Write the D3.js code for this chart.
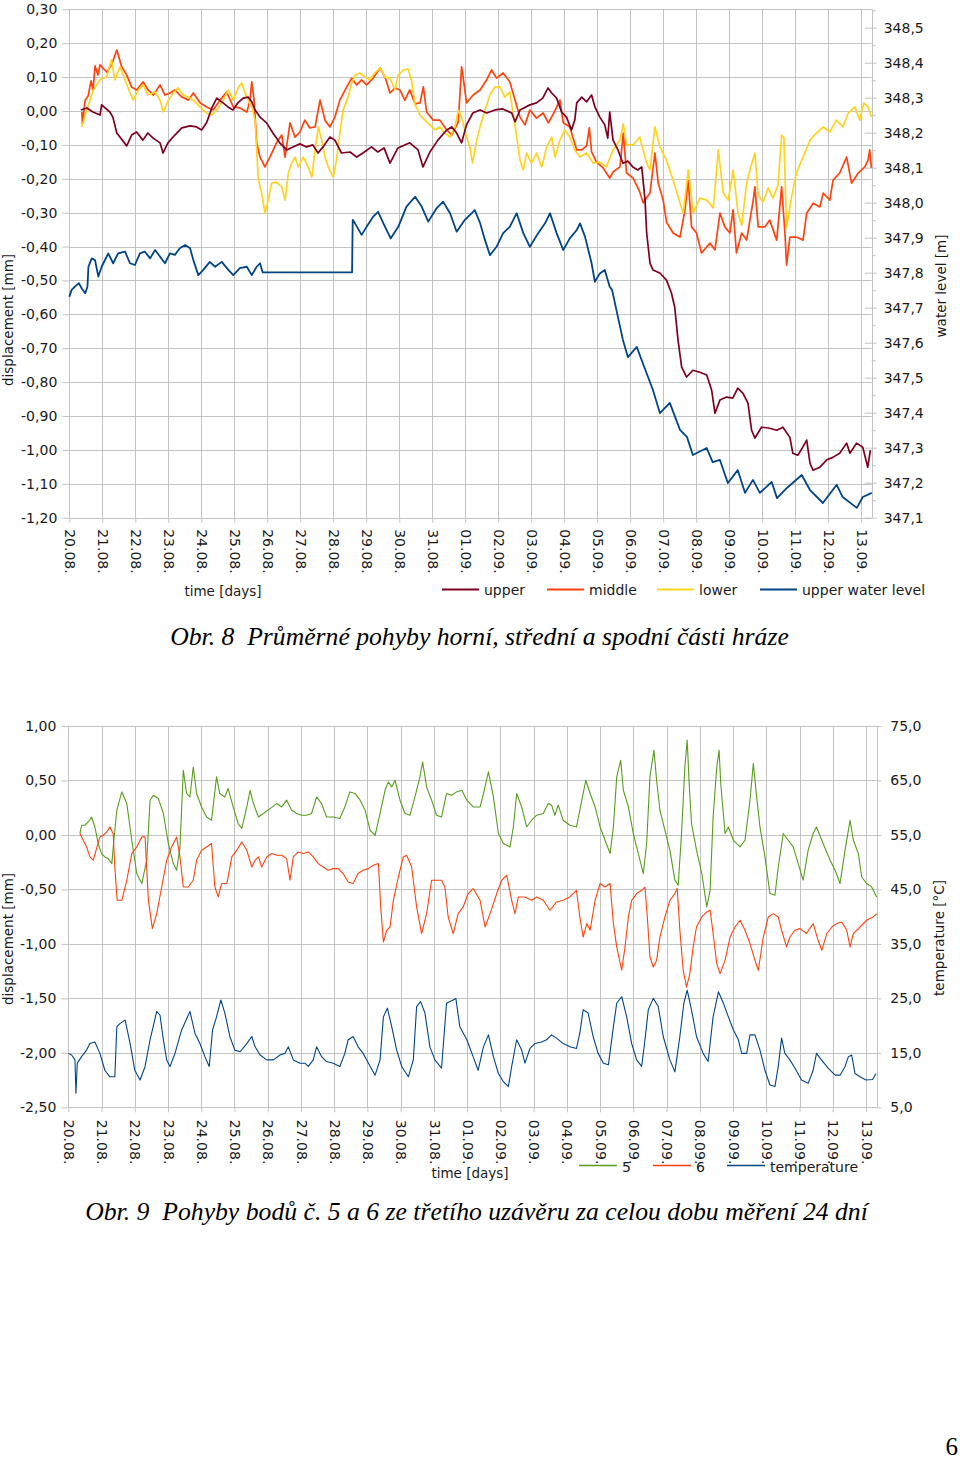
<!DOCTYPE html>
<html><head><meta charset="utf-8">
<script src="https://cdn.jsdelivr.net/npm/d3@7"></script>
<style>
body{margin:0;background:#fff}
svg{display:block}
</style>
</head><body>
<svg id="c" width="960" height="1461"></svg>
<script>
// ---------------- DATA ----------------
const dayLabels = ["20.08.","21.08.","22.08.","23.08.","24.08.","25.08.","26.08.","27.08.","28.08.","29.08.","30.08.","31.08.","01.09.","02.09.","03.09.","04.09.","05.09.","06.09.","07.09.","08.09.","09.09.","10.09.","11.09.","12.09.","13.09."];
const dispTicksTop = [-1.2,-1.1,-1.0,-0.9,-0.8,-0.7,-0.6,-0.5,-0.4,-0.3,-0.2,-0.1,0,0.1,0.2,0.3];
const waterTicks = [347.1,347.2,347.3,347.4,347.5,347.6,347.7,347.8,347.9,348.0,348.1,348.2,348.3,348.4,348.5];
const dispTicksBot = [-2.5,-2.0,-1.5,-1.0,-0.5,0,0.5,1.0];
const tempTicks = [5,15,25,35,45,55,65,75];
const seriesTop = ["upper","middle","lower","upper water level"];
const seriesBot = ["5","6","temperature"];

// top chart: [day since 20.08., displacement mm]
const upper = [[0.35,0.003],[0.53,0.009],[0.72,-0.003],[0.93,-0.012],[0.98,0.018],[1.23,-0.003],[1.32,-0.018],[1.44,-0.065],[1.74,-0.103],[1.89,-0.071],[2.04,-0.062],[2.23,-0.086],[2.38,-0.065],[2.54,-0.080],[2.75,-0.094],[2.84,-0.124],[2.99,-0.094],[3.20,-0.071],[3.41,-0.050],[3.66,-0.044],[3.86,-0.047],[4.01,-0.056],[4.16,-0.035],[4.32,0.009],[4.47,0.038],[4.66,0.024],[4.81,0.012],[4.96,0.003],[5.11,0.024],[5.27,0.038],[5.42,0.041],[5.53,0.027],[5.63,0.003],[5.78,-0.018],[5.98,-0.035],[6.17,-0.065],[6.38,-0.094],[6.59,-0.115],[6.78,-0.106],[6.99,-0.097],[7.19,-0.106],[7.38,-0.100],[7.54,-0.124],[7.69,-0.106],[7.90,-0.077],[8.05,-0.086],[8.25,-0.124],[8.51,-0.121],[8.71,-0.136],[8.90,-0.124],[9.16,-0.106],[9.35,-0.121],[9.54,-0.109],[9.72,-0.154],[9.96,-0.109],[10.32,-0.094],[10.57,-0.115],[10.72,-0.165],[10.93,-0.121],[11.17,-0.086],[11.44,-0.056],[11.59,-0.047],[11.74,-0.065],[11.89,-0.094],[12.04,-0.041],[12.23,-0.006],[12.45,0.003],[12.65,-0.006],[12.90,0.003],[13.14,0.006],[13.41,-0.006],[13.51,-0.032],[13.66,0.003],[13.96,0.018],[14.16,0.024],[14.35,0.038],[14.51,0.068],[14.62,0.053],[14.77,0.038],[14.92,-0.003],[15.07,-0.018],[15.22,-0.056],[15.32,-0.027],[15.38,0.024],[15.53,0.041],[15.68,0.027],[15.83,0.047],[15.93,0.012],[16.08,-0.018],[16.23,-0.041],[16.32,-0.080],[16.38,-0.003],[16.48,-0.086],[16.63,-0.115],[16.78,-0.154],[16.93,-0.148],[17.08,-0.165],[17.23,-0.174],[17.35,-0.165],[17.45,-0.263],[17.50,-0.360],[17.60,-0.449],[17.69,-0.469],[17.90,-0.478],[18.10,-0.499],[18.25,-0.537],[18.35,-0.579],[18.45,-0.676],[18.56,-0.756],[18.71,-0.785],[18.90,-0.765],[19.11,-0.771],[19.32,-0.779],[19.47,-0.824],[19.57,-0.892],[19.72,-0.853],[19.92,-0.844],[20.11,-0.847],[20.26,-0.818],[20.42,-0.833],[20.57,-0.862],[20.68,-0.942],[20.78,-0.965],[20.98,-0.933],[21.23,-0.936],[21.44,-0.942],[21.63,-0.933],[21.84,-0.963],[21.93,-1.010],[22.08,-1.016],[22.23,-0.992],[22.35,-0.971],[22.45,-1.039],[22.54,-1.060],[22.75,-1.051],[22.95,-1.030],[23.14,-1.022],[23.35,-1.010],[23.56,-0.980],[23.66,-1.010],[23.86,-0.980],[24.05,-0.992],[24.20,-1.051],[24.28,-1.001]];

const middle = [[0.38,-0.003],[0.40,-0.038],[0.48,0.032],[0.57,0.044],[0.66,0.089],[0.72,0.062],[0.78,0.133],[0.87,0.106],[0.93,0.136],[1.13,0.115],[1.28,0.136],[1.44,0.180],[1.59,0.130],[1.74,0.106],[1.89,0.071],[2.04,0.062],[2.24,0.086],[2.39,0.062],[2.55,0.047],[2.75,0.077],[2.90,0.047],[3.05,0.053],[3.20,0.062],[3.41,0.041],[3.61,0.032],[3.76,0.053],[3.96,0.024],[4.16,0.012],[4.36,0.003],[4.57,0.032],[4.77,0.056],[4.97,0.012],[5.17,0.009],[5.38,-0.003],[5.48,0.032],[5.53,0.086],[5.60,0.032],[5.68,-0.094],[5.78,-0.136],[5.93,-0.165],[6.08,-0.136],[6.28,-0.094],[6.44,-0.071],[6.54,-0.136],[6.69,-0.035],[6.84,-0.077],[6.99,-0.062],[7.14,-0.027],[7.29,-0.050],[7.45,-0.047],[7.60,0.032],[7.75,-0.027],[7.90,-0.047],[8.05,-0.018],[8.20,0.032],[8.41,0.071],[8.56,0.097],[8.71,0.077],[8.86,0.092],[9.01,0.077],[9.21,0.097],[9.42,0.127],[9.57,0.100],[9.72,0.053],[9.87,0.068],[10.02,0.062],[10.17,0.032],[10.32,0.062],[10.48,0.021],[10.63,0.024],[10.73,0.071],[10.83,-0.003],[11.03,-0.027],[11.23,-0.027],[11.44,-0.056],[11.59,-0.071],[11.79,-0.032],[11.89,0.130],[11.96,0.083],[12.04,0.024],[12.24,0.047],[12.45,0.062],[12.65,0.092],[12.80,0.121],[12.95,0.097],[13.15,0.112],[13.35,0.086],[13.51,0.032],[13.66,-0.018],[13.81,-0.041],[13.96,0.003],[14.16,-0.021],[14.36,-0.006],[14.52,-0.035],[14.67,-0.009],[14.87,0.032],[14.97,-0.035],[15.17,-0.047],[15.38,-0.115],[15.53,-0.115],[15.68,-0.103],[15.76,-0.050],[15.83,-0.121],[15.98,-0.151],[16.18,-0.168],[16.38,-0.198],[16.48,-0.180],[16.69,-0.165],[16.79,-0.065],[16.89,-0.183],[17.09,-0.198],[17.29,-0.239],[17.39,-0.271],[17.60,-0.242],[17.75,-0.124],[17.85,-0.213],[18.00,-0.263],[18.10,-0.328],[18.30,-0.360],[18.51,-0.372],[18.66,-0.292],[18.76,-0.204],[18.86,-0.342],[19.01,-0.360],[19.16,-0.419],[19.42,-0.390],[19.57,-0.410],[19.72,-0.301],[19.87,-0.342],[20.02,-0.360],[20.12,-0.292],[20.22,-0.419],[20.38,-0.360],[20.53,-0.381],[20.73,-0.263],[20.78,-0.224],[20.88,-0.342],[21.08,-0.342],[21.23,-0.322],[21.44,-0.381],[21.59,-0.224],[21.69,-0.360],[21.74,-0.455],[21.84,-0.372],[22.04,-0.372],[22.24,-0.381],[22.35,-0.301],[22.55,-0.272],[22.75,-0.283],[22.85,-0.242],[23.05,-0.263],[23.15,-0.204],[23.35,-0.183],[23.56,-0.136],[23.71,-0.213],[23.91,-0.183],[24.11,-0.165],[24.21,-0.145],[24.26,-0.115],[24.31,-0.168]];

const lower = [[0.38,-0.047],[0.53,0.003],[0.73,0.062],[0.93,0.092],[1.13,0.100],[1.28,0.151],[1.38,0.092],[1.54,0.130],[1.69,0.092],[1.84,0.053],[1.94,0.032],[2.09,0.062],[2.24,0.077],[2.39,0.047],[2.60,0.056],[2.75,0.032],[2.85,-0.003],[3.00,0.032],[3.15,0.053],[3.30,0.068],[3.45,0.047],[3.61,0.041],[3.76,0.032],[3.96,0.012],[4.16,-0.006],[4.32,-0.012],[4.47,0.003],[4.67,0.032],[4.82,0.062],[4.97,0.032],[5.12,0.068],[5.22,0.083],[5.38,0.041],[5.53,0.012],[5.63,-0.027],[5.73,-0.204],[5.83,-0.242],[5.93,-0.301],[6.03,-0.263],[6.13,-0.213],[6.28,-0.210],[6.44,-0.224],[6.54,-0.263],[6.64,-0.183],[6.74,-0.154],[6.84,-0.136],[6.94,-0.165],[7.09,-0.136],[7.24,-0.165],[7.35,-0.195],[7.45,-0.115],[7.55,-0.047],[7.65,-0.086],[7.75,-0.136],[7.85,-0.165],[8.00,-0.195],[8.10,-0.145],[8.20,-0.065],[8.30,0.003],[8.45,0.041],[8.56,0.083],[8.66,0.106],[8.81,0.112],[8.96,0.100],[9.11,0.092],[9.26,0.112],[9.42,0.127],[9.57,0.100],[9.72,0.097],[9.87,0.062],[9.97,0.106],[10.12,0.121],[10.27,0.124],[10.38,0.086],[10.48,0.018],[10.63,-0.012],[10.78,-0.027],[10.93,-0.041],[11.08,-0.056],[11.23,-0.047],[11.38,-0.065],[11.54,-0.077],[11.69,-0.047],[11.79,0.003],[11.89,-0.018],[12.04,-0.077],[12.14,-0.106],[12.22,-0.154],[12.35,-0.086],[12.45,-0.047],[12.60,0.003],[12.75,0.047],[12.90,0.071],[13.05,0.071],[13.20,0.041],[13.35,0.056],[13.45,-0.006],[13.56,-0.077],[13.66,-0.145],[13.76,-0.174],[13.86,-0.124],[14.01,-0.154],[14.16,-0.124],[14.32,-0.165],[14.47,-0.106],[14.62,-0.077],[14.72,-0.136],[14.87,-0.086],[15.02,-0.056],[15.17,-0.077],[15.32,-0.115],[15.48,-0.136],[15.68,-0.124],[15.88,-0.154],[16.08,-0.151],[16.28,-0.165],[16.48,-0.115],[16.69,-0.086],[16.79,-0.038],[16.89,-0.100],[17.09,-0.100],[17.29,-0.077],[17.50,-0.154],[17.60,-0.174],[17.75,-0.047],[17.90,-0.106],[18.10,-0.145],[18.30,-0.204],[18.51,-0.272],[18.61,-0.301],[18.76,-0.174],[18.91,-0.301],[19.11,-0.257],[19.32,-0.263],[19.52,-0.286],[19.67,-0.115],[19.82,-0.242],[19.97,-0.263],[20.12,-0.174],[20.27,-0.301],[20.38,-0.337],[20.53,-0.213],[20.63,-0.174],[20.78,-0.124],[20.88,-0.248],[21.03,-0.269],[21.18,-0.227],[21.33,-0.257],[21.48,-0.218],[21.59,-0.071],[21.66,-0.080],[21.74,-0.345],[21.89,-0.254],[22.04,-0.183],[22.24,-0.136],[22.45,-0.086],[22.65,-0.065],[22.85,-0.047],[23.05,-0.062],[23.25,-0.027],[23.45,-0.047],[23.61,-0.006],[23.81,0.012],[23.96,-0.027],[24.08,0.024],[24.21,0.012],[24.31,-0.018]];

// [day, water level m]
const waterLevel = [[0,347.731],[0.07,347.751],[0.17,347.760],[0.29,347.770],[0.38,347.755],[0.48,347.741],[0.55,347.760],[0.58,347.817],[0.68,347.841],[0.78,347.836],[0.88,347.789],[0.98,347.817],[1.18,347.855],[1.33,347.827],[1.48,347.855],[1.69,347.860],[1.84,347.827],[1.99,347.822],[2.14,347.855],[2.29,347.860],[2.45,347.841],[2.60,347.865],[2.75,347.846],[2.90,347.827],[3.05,347.855],[3.20,347.851],[3.35,347.870],[3.51,347.879],[3.66,347.870],[3.76,347.836],[3.91,347.793],[4.06,347.808],[4.26,347.831],[4.42,347.817],[4.62,347.831],[4.82,347.808],[4.97,347.793],[5.17,347.813],[5.38,347.817],[5.53,347.793],[5.68,347.817],[5.78,347.827],[5.86,347.801],[8.57,347.801],[8.59,347.951],[8.66,347.941],[8.86,347.908],[9.01,347.931],[9.21,347.960],[9.36,347.974],[9.52,347.941],[9.74,347.898],[9.97,347.931],[10.22,347.989],[10.48,348.017],[10.68,347.989],[10.88,347.946],[11.13,347.984],[11.33,348.003],[11.54,347.970],[11.74,347.917],[11.99,347.951],[12.29,347.979],[12.45,347.942],[12.60,347.893],[12.75,347.850],[12.95,347.874],[13.15,347.913],[13.35,347.931],[13.56,347.970],[13.76,347.913],[13.96,347.874],[14.21,347.913],[14.42,347.941],[14.57,347.970],[14.77,347.913],[14.97,347.865],[15.17,347.898],[15.38,347.922],[15.48,347.941],[15.63,347.903],[15.83,347.827],[15.93,347.774],[16.08,347.798],[16.23,347.808],[16.38,347.760],[16.45,347.751],[16.78,347.608],[16.93,347.559],[17.20,347.588],[17.38,347.542],[17.69,347.465],[17.90,347.399],[18.20,347.428],[18.51,347.351],[18.72,347.331],[18.90,347.279],[19.32,347.299],[19.50,347.259],[19.72,347.265],[19.96,347.199],[20.26,347.236],[20.48,347.171],[20.72,347.208],[20.93,347.171],[21.29,347.202],[21.45,347.156],[21.75,347.185],[22.20,347.222],[22.45,347.179],[22.84,347.142],[23.26,347.194],[23.44,347.159],[23.87,347.128],[24.05,347.159],[24.32,347.171]];

// bottom chart: [day, displacement mm]
const point5 = [[0.35,0.013],[0.40,0.089],[0.50,0.089],[0.60,0.119],[0.70,0.165],[0.80,0.073],[0.90,-0.079],[1.00,-0.171],[1.10,-0.202],[1.20,-0.217],[1.31,-0.263],[1.37,-0.049],[1.46,0.227],[1.61,0.395],[1.76,0.288],[1.91,-0.049],[2.06,-0.354],[2.21,-0.446],[2.36,-0.232],[2.46,0.319],[2.56,0.365],[2.71,0.334],[2.86,0.197],[3.01,-0.079],[3.16,-0.263],[3.26,-0.324],[3.36,-0.110],[3.46,0.594],[3.56,0.380],[3.66,0.349],[3.76,0.624],[3.86,0.380],[4.01,0.257],[4.16,0.165],[4.31,0.135],[4.46,0.533],[4.56,0.380],[4.71,0.349],[4.81,0.426],[4.96,0.257],[5.11,0.105],[5.22,0.059],[5.37,0.257],[5.47,0.410],[5.57,0.288],[5.72,0.165],[5.87,0.197],[6.07,0.242],[6.27,0.288],[6.42,0.257],[6.57,0.319],[6.72,0.227],[6.87,0.197],[7.02,0.181],[7.17,0.181],[7.32,0.197],[7.47,0.349],[7.62,0.288],[7.77,0.165],[7.97,0.165],[8.17,0.151],[8.32,0.257],[8.47,0.395],[8.63,0.380],[8.78,0.319],[8.93,0.227],[9.08,0.043],[9.23,-0.003],[9.38,0.197],[9.53,0.410],[9.63,0.487],[9.73,0.441],[9.83,0.502],[9.98,0.319],[10.13,0.197],[10.28,0.181],[10.43,0.349],[10.58,0.533],[10.66,0.670],[10.78,0.441],[10.93,0.319],[11.08,0.181],[11.23,0.165],[11.38,0.380],[11.53,0.365],[11.68,0.395],[11.84,0.410],[11.99,0.319],[12.18,0.257],[12.39,0.257],[12.49,0.380],[12.64,0.579],[12.79,0.349],[12.94,0.013],[13.09,-0.079],[13.29,-0.110],[13.39,0.073],[13.49,0.380],[13.64,0.257],[13.79,0.073],[13.94,0.135],[14.09,0.181],[14.29,0.197],[14.44,0.288],[14.54,0.273],[14.64,0.181],[14.74,0.273],[14.89,0.135],[15.09,0.089],[15.29,0.073],[15.45,0.319],[15.57,0.502],[15.70,0.380],[15.85,0.257],[16.00,0.073],[16.15,-0.049],[16.30,-0.171],[16.40,0.073],[16.50,0.533],[16.62,0.686],[16.70,0.410],[16.85,0.257],[17.00,0.013],[17.15,-0.171],[17.30,-0.354],[17.40,-0.079],[17.50,0.533],[17.62,0.778],[17.70,0.502],[17.80,0.227],[17.95,0.043],[18.10,-0.140],[18.25,-0.415],[18.35,-0.462],[18.45,0.013],[18.55,0.624],[18.62,0.870],[18.68,0.472],[18.75,0.105],[18.90,-0.140],[19.06,-0.354],[19.21,-0.661],[19.31,-0.508],[19.40,0.165],[19.51,0.624],[19.58,0.778],[19.63,0.472],[19.69,0.257],[19.76,0.013],[19.86,0.073],[20.01,-0.049],[20.21,-0.110],[20.36,-0.049],[20.41,0.073],[20.51,0.319],[20.61,0.656],[20.71,0.349],[20.81,0.073],[20.96,-0.202],[21.11,-0.538],[21.26,-0.554],[21.36,-0.294],[21.51,0.013],[21.66,-0.049],[21.81,-0.110],[21.96,-0.263],[22.11,-0.416],[22.26,-0.140],[22.41,0.013],[22.51,0.073],[22.71,-0.079],[22.92,-0.232],[23.07,-0.324],[23.22,-0.446],[23.37,-0.140],[23.52,0.135],[23.62,-0.049],[23.77,-0.171],[23.87,-0.386],[24.02,-0.446],[24.17,-0.477],[24.32,-0.570]];

const point6 = [[0.35,0.013],[0.45,-0.049],[0.55,-0.110],[0.65,-0.202],[0.75,-0.232],[0.85,-0.125],[0.95,-0.018],[1.05,-0.003],[1.16,0.028],[1.25,0.073],[1.35,0.013],[1.40,-0.294],[1.47,-0.600],[1.61,-0.600],[1.76,-0.416],[1.91,-0.171],[2.06,-0.110],[2.21,-0.018],[2.31,-0.018],[2.41,-0.600],[2.53,-0.860],[2.66,-0.722],[2.81,-0.478],[2.96,-0.232],[3.11,-0.110],[3.26,-0.018],[3.36,-0.202],[3.46,-0.478],[3.61,-0.478],[3.76,-0.416],[3.86,-0.232],[4.01,-0.140],[4.16,-0.110],[4.31,-0.079],[4.41,-0.478],[4.51,-0.569],[4.61,-0.446],[4.77,-0.446],[4.92,-0.202],[5.07,-0.140],[5.22,-0.064],[5.37,-0.140],[5.52,-0.294],[5.62,-0.232],[5.72,-0.202],[5.82,-0.294],[5.97,-0.202],[6.12,-0.171],[6.27,-0.186],[6.42,-0.186],[6.57,-0.217],[6.67,-0.416],[6.77,-0.202],[6.92,-0.156],[7.07,-0.171],[7.22,-0.156],[7.37,-0.202],[7.52,-0.263],[7.67,-0.294],[7.82,-0.324],[7.97,-0.309],[8.12,-0.309],[8.27,-0.354],[8.42,-0.432],[8.57,-0.446],[8.72,-0.354],[8.87,-0.324],[9.03,-0.309],[9.18,-0.278],[9.33,-0.263],[9.40,-0.661],[9.48,-0.983],[9.58,-0.875],[9.68,-0.845],[9.78,-0.600],[9.93,-0.386],[10.08,-0.202],[10.18,-0.186],[10.33,-0.294],[10.48,-0.661],[10.63,-0.905],[10.78,-0.722],[10.93,-0.416],[11.08,-0.416],[11.23,-0.416],[11.33,-0.478],[11.43,-0.753],[11.58,-0.905],[11.73,-0.722],[11.88,-0.661],[12.03,-0.538],[12.18,-0.492],[12.39,-0.600],[12.54,-0.845],[12.69,-0.722],[12.89,-0.538],[13.04,-0.416],[13.19,-0.370],[13.34,-0.600],[13.44,-0.722],[13.54,-0.569],[13.74,-0.569],[13.94,-0.600],[14.09,-0.569],[14.29,-0.600],[14.49,-0.691],[14.69,-0.615],[14.89,-0.600],[15.09,-0.569],[15.29,-0.508],[15.39,-0.753],[15.49,-0.937],[15.60,-0.814],[15.70,-0.875],[15.85,-0.600],[16.00,-0.446],[16.15,-0.478],[16.30,-0.446],[16.40,-0.814],[16.50,-1.028],[16.65,-1.242],[16.75,-1.028],[16.85,-0.753],[16.95,-0.600],[17.10,-0.538],[17.25,-0.508],[17.35,-0.478],[17.42,-0.753],[17.50,-1.120],[17.60,-1.212],[17.70,-1.151],[17.80,-0.937],[17.95,-0.753],[18.10,-0.600],[18.25,-0.538],[18.32,-0.492],[18.40,-0.875],[18.50,-1.242],[18.60,-1.396],[18.70,-1.273],[18.80,-1.028],[18.90,-0.845],[19.06,-0.753],[19.21,-0.707],[19.31,-0.691],[19.40,-0.905],[19.51,-1.181],[19.61,-1.273],[19.76,-1.151],[19.91,-0.937],[20.06,-0.845],[20.21,-0.783],[20.36,-0.875],[20.51,-0.997],[20.66,-1.151],[20.76,-1.242],[20.91,-0.937],[21.06,-0.753],[21.21,-0.722],[21.36,-0.753],[21.46,-0.875],[21.61,-1.028],[21.71,-0.937],[21.86,-0.875],[22.01,-0.860],[22.21,-0.905],[22.41,-0.814],[22.56,-0.967],[22.67,-1.059],[22.82,-0.905],[22.97,-0.845],[23.12,-0.814],[23.27,-0.799],[23.42,-0.875],[23.52,-1.028],[23.62,-0.905],[23.82,-0.845],[24.02,-0.783],[24.22,-0.753],[24.32,-0.722]];

// [day, temperature °C]
const temperature = [[0,14.9],[0.10,14.6],[0.20,13.7],[0.23,7.6],[0.27,13.1],[0.40,14.3],[0.55,15.5],[0.65,16.7],[0.80,17.0],[0.95,14.9],[1.10,11.8],[1.25,10.6],[1.40,10.6],[1.46,19.8],[1.56,20.4],[1.71,21.0],[1.86,16.7],[2.00,11.8],[2.16,10.0],[2.31,12.5],[2.46,17.4],[2.66,22.6],[2.76,21.9],[2.86,17.4],[2.96,13.7],[3.06,12.5],[3.21,14.9],[3.41,19.2],[3.66,22.6],[3.81,18.6],[3.96,16.7],[4.11,14.3],[4.24,12.5],[4.34,19.2],[4.46,21.6],[4.59,24.7],[4.71,22.3],[4.86,18.0],[5.01,15.5],[5.17,15.2],[5.37,16.7],[5.52,18.0],[5.62,16.1],[5.77,14.6],[5.97,13.7],[6.17,13.7],[6.37,14.6],[6.52,14.9],[6.62,16.1],[6.77,13.7],[6.97,13.1],[7.12,13.1],[7.22,12.5],[7.37,13.7],[7.47,16.1],[7.62,14.3],[7.77,13.4],[7.97,13.1],[8.17,12.5],[8.32,14.9],[8.42,17.4],[8.57,18.0],[8.72,16.1],[8.87,14.9],[9.03,13.1],[9.23,10.9],[9.38,13.7],[9.48,21.6],[9.60,23.2],[9.73,19.8],[9.88,15.5],[10.03,12.5],[10.23,10.6],[10.38,13.7],[10.48,23.5],[10.60,24.4],[10.73,22.3],[10.88,16.1],[11.03,13.7],[11.23,12.2],[11.38,24.1],[11.58,24.7],[11.66,25.0],[11.78,19.8],[11.99,17.4],[12.18,14.3],[12.33,11.8],[12.49,16.1],[12.64,18.3],[12.79,14.3],[12.94,11.2],[13.09,9.7],[13.24,8.8],[13.34,12.5],[13.49,17.4],[13.64,15.5],[13.74,13.1],[13.89,15.8],[14.04,16.7],[14.24,17.0],[14.39,17.4],[14.54,18.3],[14.69,17.7],[14.89,16.7],[15.09,16.1],[15.29,15.8],[15.39,18.6],[15.49,22.9],[15.64,22.3],[15.79,18.0],[15.94,14.9],[16.10,13.1],[16.25,12.8],[16.40,19.8],[16.50,24.1],[16.65,25.3],[16.80,21.6],[16.95,16.7],[17.10,13.7],[17.25,12.5],[17.35,17.4],[17.45,22.9],[17.60,25.0],[17.75,23.5],[17.90,18.0],[18.10,13.7],[18.25,11.5],[18.40,18.0],[18.52,24.1],[18.62,26.5],[18.75,22.9],[18.90,18.0],[19.10,14.9],[19.25,13.4],[19.40,21.6],[19.56,26.2],[19.71,24.1],[19.86,21.6],[20.01,19.2],[20.16,17.4],[20.26,14.9],[20.41,14.9],[20.51,18.3],[20.66,18.3],[20.81,15.5],[20.96,11.8],[21.11,9.1],[21.26,8.8],[21.36,12.5],[21.46,17.7],[21.56,14.9],[21.71,13.7],[21.86,12.2],[22.06,10.0],[22.26,9.4],[22.41,11.8],[22.51,14.9],[22.66,13.7],[22.86,12.2],[23.07,10.9],[23.22,10.9],[23.37,12.5],[23.47,14.3],[23.57,14.6],[23.67,11.2],[23.82,10.6],[24.00,10.0],[24.20,10.1],[24.30,11.2]];

// ---------------- DRAWING ----------------
const svg = d3.select("#c");
const FONT = "'DejaVu Sans', sans-serif";
const GRID = "#c3c3c3";
const TXT = "#1a1a1a";
const comma = s => s.replace("\u2212", "-").replace(".", ",");
const colTop = {"upper":"#7e0021","middle":"#ff420e","lower":"#ffd320","upper water level":"#004586"};
const colBot = {"5":"#579d1c","6":"#ff420e","temperature":"#004586"};

function styleAxis(g){
  g.attr("font-family", FONT).attr("font-size", 14).attr("color", TXT);
  g.select(".domain").remove();
  g.selectAll(".tick line").attr("stroke", GRID);
}

// ===== TOP CHART =====
const xT = d3.scaleLinear().domain([0, 24.32]).range([69.3, 871.7]);
const yT = d3.scaleLinear().domain([-1.2, 0.3]).range([517.7, 9.3]);
const wT = d3.scaleLinear().domain([347.1, 348.5]).range([517.7, 27.7]);

const gT = svg.append("g");
gT.append("g").selectAll("line").data(dispTicksTop).join("line")
  .attr("x1", xT(0)).attr("x2", xT.range()[1])
  .attr("y1", d => Math.round(yT(d)) + 0.5).attr("y2", d => Math.round(yT(d)) + 0.5)
  .attr("stroke", GRID).attr("stroke-width", 1);
gT.append("g").selectAll("line").data(d3.range(dayLabels.length)).join("line")
  .attr("x1", d => Math.round(xT(d)) + 0.5).attr("x2", d => Math.round(xT(d)) + 0.5)
  .attr("y1", yT(0.3)).attr("y2", yT(-1.2))
  .attr("stroke", GRID).attr("stroke-width", 1);
gT.append("line").attr("x1", Math.round(xT.range()[1]) + 0.5).attr("x2", Math.round(xT.range()[1]) + 0.5)
  .attr("y1", yT(0.3)).attr("y2", yT(-1.2)).attr("stroke", GRID);

gT.append("g").attr("transform", `translate(${xT(0)},0)`)
  .call(d3.axisLeft(yT).tickValues(dispTicksTop).tickSize(7).tickPadding(5).tickFormat(d => comma(d3.format(".2f")(d))))
  .call(styleAxis);
const minorW = waterTicks.map(d => d + 0.05);
gT.append("g").attr("transform", `translate(${xT.range()[1]},0)`)
  .call(d3.axisRight(wT).tickValues(minorW).tickSize(4).tickFormat(""))
  .call(styleAxis);
gT.append("g").attr("transform", `translate(${xT.range()[1]},0)`)
  .call(d3.axisLeft(wT).tickValues(waterTicks).tickSize(7).tickFormat(""))
  .call(styleAxis);
gT.append("g").attr("transform", `translate(${xT.range()[1]},0)`)
  .call(d3.axisRight(wT).tickValues(waterTicks).tickSize(5).tickPadding(7).tickFormat(d => comma(d3.format(".1f")(d))))
  .call(styleAxis);
gT.append("g").attr("transform", `translate(0,${yT(-1.2)})`)
  .call(d3.axisBottom(xT).tickValues(d3.range(dayLabels.length)).tickSize(5).tickFormat(i => dayLabels[i]))
  .call(styleAxis)
  .call(g => g.selectAll("text").attr("transform", "rotate(90)").attr("text-anchor", "start")
    .attr("x", 11.5).attr("y", 0).attr("dy", "0.35em"));

const lineT = d3.line().x(d => xT(d[0])).y(d => yT(d[1]));
const lineW = d3.line().x(d => xT(d[0])).y(d => wT(d[1]));
const topSeries = [["middle", middle], ["lower", lower], ["upper", upper]];
topSeries.forEach(([name, data]) => {
  gT.append("path").datum(data).attr("d", lineT).attr("fill", "none")
    .attr("stroke", colTop[name]).attr("stroke-width", 1.7).attr("stroke-linejoin", "round");
});
gT.append("path").datum(waterLevel).attr("d", lineW).attr("fill", "none")
  .attr("stroke", colTop["upper water level"]).attr("stroke-width", 1.8).attr("stroke-linejoin", "round");

gT.append("text").attr("transform", "translate(7.5,320) rotate(-90)").attr("text-anchor", "middle")
  .attr("dominant-baseline", "central").attr("font-family", FONT).attr("font-size", 13.5).attr("fill", TXT)
  .text("displacement [mm]");
gT.append("text").attr("transform", "translate(941,286) rotate(-90)").attr("text-anchor", "middle")
  .attr("dominant-baseline", "central").attr("font-family", FONT).attr("font-size", 13.5).attr("fill", TXT)
  .text("water level [m]");
gT.append("text").attr("x", 223).attr("y", 596).attr("text-anchor", "middle")
  .attr("font-family", FONT).attr("font-size", 13.5).attr("fill", TXT).text("time [days]");

const legTopX = [442, 547, 657, 760];
seriesTop.forEach((s, i) => {
  gT.append("line").attr("x1", legTopX[i]).attr("x2", legTopX[i] + 37).attr("y1", 589.5).attr("y2", 589.5)
    .attr("stroke", colTop[s]).attr("stroke-width", 2);
  gT.append("text").attr("x", legTopX[i] + 42).attr("y", 595).attr("font-family", FONT)
    .attr("font-size", 14).attr("fill", TXT).text(s);
});

// ===== BOTTOM CHART =====
const xB = d3.scaleLinear().domain([0, 24.34]).range([68.3, 877.3]);
const yB = d3.scaleLinear().domain([-2.5, 1.0]).range([1107.3, 726]);
const tB = d3.scaleLinear().domain([5, 75]).range([1107.3, 726]);

const gB = svg.append("g");
gB.append("g").selectAll("line").data(dispTicksBot).join("line")
  .attr("x1", xB(0)).attr("x2", xB.range()[1])
  .attr("y1", d => Math.round(yB(d)) + 0.5).attr("y2", d => Math.round(yB(d)) + 0.5)
  .attr("stroke", GRID);
gB.append("g").selectAll("line").data(d3.range(dayLabels.length)).join("line")
  .attr("x1", d => Math.round(xB(d)) + 0.5).attr("x2", d => Math.round(xB(d)) + 0.5)
  .attr("y1", yB(1)).attr("y2", yB(-2.5)).attr("stroke", GRID);
gB.append("line").attr("x1", Math.round(xB.range()[1]) + 0.5).attr("x2", Math.round(xB.range()[1]) + 0.5)
  .attr("y1", yB(1)).attr("y2", yB(-2.5)).attr("stroke", GRID);

gB.append("g").attr("transform", `translate(${xB(0)},0)`)
  .call(d3.axisLeft(yB).tickValues(dispTicksBot).tickSize(7).tickPadding(5).tickFormat(d => comma(d3.format(".2f")(d))))
  .call(styleAxis);
gB.append("g").attr("transform", `translate(${xB.range()[1]},0)`)
  .call(d3.axisRight(tB).tickValues(tempTicks).tickSize(4).tickPadding(9).tickFormat(d => comma(d3.format(".1f")(d))))
  .call(styleAxis);
gB.append("g").attr("transform", `translate(0,${yB(-2.5)})`)
  .call(d3.axisBottom(xB).tickValues(d3.range(dayLabels.length)).tickSize(5).tickFormat(i => dayLabels[i]))
  .call(styleAxis)
  .call(g => g.selectAll("text").attr("transform", "rotate(90)").attr("text-anchor", "start")
    .attr("x", 12.5).attr("y", 0).attr("dy", "0.35em"));

const lineB = d3.line().x(d => xB(d[0])).y(d => yB(d[1]));
const lineTemp = d3.line().x(d => xB(d[0])).y(d => tB(d[1]));
gB.append("path").datum(point5).attr("d", lineB).attr("fill", "none")
  .attr("stroke", colBot["5"]).attr("stroke-width", 1.1).attr("stroke-linejoin", "round");
gB.append("path").datum(point6).attr("d", lineB).attr("fill", "none")
  .attr("stroke", colBot["6"]).attr("stroke-width", 1.1).attr("stroke-linejoin", "round");
gB.append("path").datum(temperature).attr("d", lineTemp).attr("fill", "none")
  .attr("stroke", colBot["temperature"]).attr("stroke-width", 1.1).attr("stroke-linejoin", "round");

gB.append("text").attr("transform", "translate(7.5,939) rotate(-90)").attr("text-anchor", "middle")
  .attr("dominant-baseline", "central").attr("font-family", FONT).attr("font-size", 13.5).attr("fill", TXT)
  .text("displacement [mm]");
gB.append("text").attr("transform", "translate(938.5,938) rotate(-90)").attr("text-anchor", "middle")
  .attr("dominant-baseline", "central").attr("font-family", FONT).attr("font-size", 13.5).attr("fill", TXT)
  .text("temperature [°C]");
gB.append("text").attr("x", 470).attr("y", 1178).attr("text-anchor", "middle")
  .attr("font-family", FONT).attr("font-size", 13.5).attr("fill", TXT).text("time [days]");

const legBotX = [579, 653, 727];
seriesBot.forEach((s, i) => {
  gB.append("line").attr("x1", legBotX[i]).attr("x2", legBotX[i] + 38).attr("y1", 1165.5).attr("y2", 1165.5)
    .attr("stroke", colBot[s]).attr("stroke-width", 1.5);
  gB.append("text").attr("x", legBotX[i] + 43).attr("y", 1171.5).attr("font-family", FONT)
    .attr("font-size", 14).attr("fill", TXT).text(s);
});

// ===== CAPTIONS =====
function caption(txt, cx, y, targetW) {
  const t = svg.append("text").attr("x", cx).attr("y", y).attr("text-anchor", "middle")
    .attr("font-family", "'Liberation Serif', 'Times New Roman', serif").attr("font-style", "italic")
    .attr("font-size", 100).attr("fill", "#000").style("white-space", "pre").text(txt);
  const w = t.node().getComputedTextLength();
  t.attr("font-size", 100 * targetW / w);
}
caption("Obr. 8  Průměrné pohyby horní, střední a spodní části hráze", 479.5, 645, 619);
caption("Obr. 9  Pohyby bodů č. 5 a 6 ze třetího uzávěru za celou dobu měření 24 dní", 476.5, 1220, 783);

svg.append("text").attr("x", 958).attr("y", 1455).attr("text-anchor", "end")
  .attr("font-family", "'Liberation Serif', 'Times New Roman', serif").attr("font-size", 25).attr("fill", "#000").text("6");
</script>
</body></html>
